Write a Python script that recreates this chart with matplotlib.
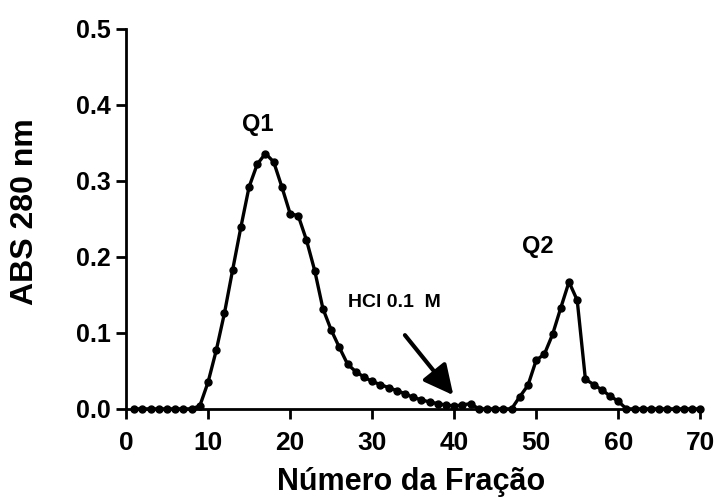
import numpy as np
import matplotlib
matplotlib.use('Agg')
import matplotlib.pyplot as plt

plt.rcParams['font.family'] = ['Liberation Sans', 'DejaVu Sans']
plt.rcParams['font.weight'] = 'bold'

# fraction number and absorbance at 280 nm
fractions = np.arange(1, 71)
abs280 = [0, 0, 0, 0, 0, 0, 0, 0,
          0.004, 0.035, 0.077, 0.126, 0.183, 0.239, 0.292, 0.322, 0.336, 0.325,
          0.292, 0.257, 0.254, 0.222, 0.182, 0.132, 0.104, 0.081, 0.059, 0.049,
          0.042, 0.036, 0.032, 0.028, 0.024, 0.020, 0.015, 0.012, 0.009, 0.007,
          0.005, 0.004, 0.005, 0.007,
          0, 0, 0, 0, 0,
          0.016, 0.031, 0.064, 0.072, 0.098, 0.133, 0.167, 0.143, 0.039, 0.032,
          0.025, 0.017, 0.010,
          0, 0, 0, 0, 0, 0, 0, 0, 0, 0]

xticks = [0, 10, 20, 30, 40, 50, 60, 70]
yticks = [0.0, 0.1, 0.2, 0.3, 0.4, 0.5]

fig = plt.figure(figsize=(7.16, 4.98), dpi=100)
ax = fig.add_axes([0.176, 0.179, 0.802, 0.763])

ax.plot(fractions, abs280, color='black', lw=2.4, marker='o', ms=5,
        clip_on=False, zorder=3)

ax.set_xlim(0, 70)
ax.set_ylim(0, 0.5)
ax.set_xticks(xticks)
ax.set_yticks(yticks)
ax.set_yticklabels([f'{v:.1f}' for v in yticks], fontsize=18, fontweight='bold')
ax.set_xticklabels([str(v) for v in xticks], fontsize=19, fontweight='bold')
ax.tick_params(direction='out', length=7, width=2)
ax.tick_params(axis='x', pad=9)
ax.tick_params(axis='y', pad=4)

for side in ['top', 'right']:
    ax.spines[side].set_visible(False)
for side in ['left', 'bottom']:
    ax.spines[side].set_linewidth(2)

# axis titles placed by hand to match the reference
fig.text(0.574, 0.016, 'Número da Fração', fontsize=22, fontweight='bold',
         ha='center', va='baseline')
fig.text(0.035, 0.576, 'ABS 280 nm', fontsize=23, fontweight='bold',
         rotation=90, ha='center', va='center')

ax.text(16.0, 0.374, 'Q1', fontsize=17, fontweight='bold', ha='center', va='center')
ax.text(50.2, 0.214, 'Q2', fontsize=17, fontweight='bold', ha='center', va='center')
ax.text(32.7, 0.134, 'HCl 0.1  M', fontsize=14, fontweight='bold',
        ha='center', va='baseline')
ax.annotate('', xy=(39.9, 0.018), xytext=(34.0, 0.097),
            arrowprops=dict(arrowstyle='-|>', lw=3, color='black',
                            mutation_scale=45, shrinkA=0, shrinkB=0))

fig.savefig('out.png', dpi=100)
